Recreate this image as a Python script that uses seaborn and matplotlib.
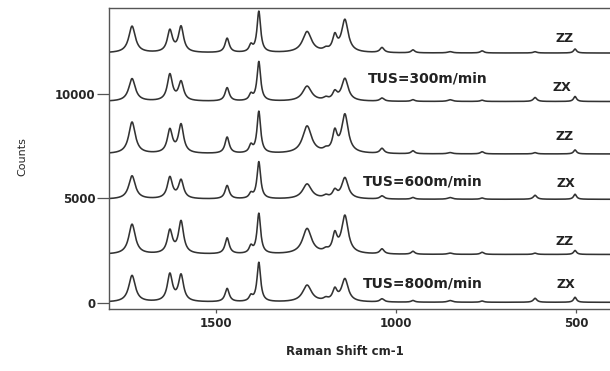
import numpy as np
import pandas as pd
import matplotlib
matplotlib.use("Agg")
import matplotlib.pyplot as plt
import seaborn as sns

# ---- data ----
# Raman band centres (cm-1) and half widths (cm-1)
peak_centers = [1733, 1628, 1597, 1469, 1403, 1381, 1247, 1195, 1170, 1142,
                1039, 953, 850, 761, 614, 503]
peak_hwhm = [11, 8.5, 8.5, 7, 6, 6, 15, 8, 7.5, 11, 7, 6, 8, 6, 6, 5]

# trace names (bottom -> top)
trace_names = ["ZX 800", "ZZ 800", "ZX 600", "ZZ 600", "ZX 300", "ZZ 300"]
# vertical offsets (counts)
trace_offsets = [30, 2320, 4960, 7130, 9640, 11960]

# band heights above baseline (counts) for each trace
h_zx800 = [1275, 1300, 1260, 640, 250, 1880, 800, 120, 540, 1085, 150, 80, 80, 60, 190, 240]
h_zz800 = [1435, 1090, 1540, 765, 330, 1925, 1210, 120, 840, 1800, 240, 140, 60, 100, 60, 190]
h_zx600 = [1115, 1020, 880, 640, 230, 1770, 715, 120, 350, 1005, 150, 80, 80, 60, 190, 240]
h_zz600 = [1515, 1110, 1360, 780, 350, 1995, 1305, 120, 930, 1830, 240, 140, 60, 100, 60, 190]
h_zx300 = [1085, 1260, 900, 640, 290, 1880, 715, 120, 380, 1070, 150, 80, 80, 60, 190, 240]
h_zz300 = [1275, 1040, 1220, 685, 320, 1960, 1000, 120, 720, 1545, 240, 140, 60, 100, 60, 190]
trace_heights = [h_zx800, h_zz800, h_zx600, h_zz600, h_zx300, h_zz300]

# annotations
pol_labels = ["ZX", "ZZ", "ZX", "ZZ", "ZX", "ZZ"]
pol_label_x = [528, 531, 528, 531, 539, 531]
pol_label_y = [900, 2960, 5700, 7950, 10300, 12660]
speed_labels = ["TUS=800m/min", "TUS=600m/min", "TUS=300m/min"]
speed_label_x = [1092, 1092, 1078]
speed_label_y = [950, 5790, 10740]

x_ticks = [1500, 1000, 500]
y_ticks = [0, 5000, 10000]

# ---- build spectra (sum of Lorentzian bands) ----
wn = np.arange(1797.0, 405.0, -1.0)
c = np.array(peak_centers, dtype=float)[:, None]
w = np.array(peak_hwhm, dtype=float)[:, None]
shape = 1.0 / (1.0 + ((wn[None, :] - c) / w) ** 2)

frames = []
for name, off, hts in zip(trace_names, trace_offsets, trace_heights):
    y = off + (np.array(hts, dtype=float)[:, None] * shape).sum(axis=0)
    frames.append(pd.DataFrame({"wavenumber": wn, "counts": y, "trace": name}))
df = pd.concat(frames, ignore_index=True)

# ---- plot ----
sns.set_style("ticks")
plt.rcParams["font.family"] = ["DejaVu Sans"]

fig = plt.figure(figsize=(6.10, 3.71), dpi=100)
ax = fig.add_axes([109 / 610, 1 - 309 / 371, 1 - 109 / 610, (309 - 8) / 371])

sns.lineplot(data=df, x="wavenumber", y="counts", units="trace", estimator=None,
             color="#333333", linewidth=1.15, ax=ax, sort=False)

ax.set_xlim(1797, 406)
ax.set_ylim(-290, 14115)
ax.set_xticks(x_ticks)
ax.set_xticklabels([str(v) for v in x_ticks], fontsize=8.5, fontweight="bold")
ax.set_yticks(y_ticks)
ax.set_yticklabels([str(v) for v in y_ticks], fontsize=8.5, fontweight="bold")
ax.tick_params(axis="y", length=8.5, width=0.9, pad=1, color="#555555")
ax.tick_params(axis="x", length=3, width=0.9, pad=2.5, color="#555555")

for s in ["left", "bottom", "top"]:
    ax.spines[s].set_color("#555555")
    ax.spines[s].set_linewidth(1.0)
ax.spines["right"].set_visible(False)

ax.set_xlabel("Raman Shift cm-1", fontsize=8.5, fontweight="bold")
ax.xaxis.set_label_coords((345 - 109) / 501, (309 - 345) / 301)
ax.set_ylabel("Counts", fontsize=8)
ax.yaxis.set_label_coords((27 - 109) / 501, (309 - 157) / 301)

for lab, x, y in zip(pol_labels, pol_label_x, pol_label_y):
    ax.text(x, y, lab, ha="center", va="center", fontsize=9, fontweight="bold",
            color="#222222")
for lab, x, y in zip(speed_labels, speed_label_x, speed_label_y):
    ax.text(x, y, lab, ha="left", va="center", fontsize=10, fontweight="bold",
            color="#222222")

fig.savefig("out.png", dpi=100)
